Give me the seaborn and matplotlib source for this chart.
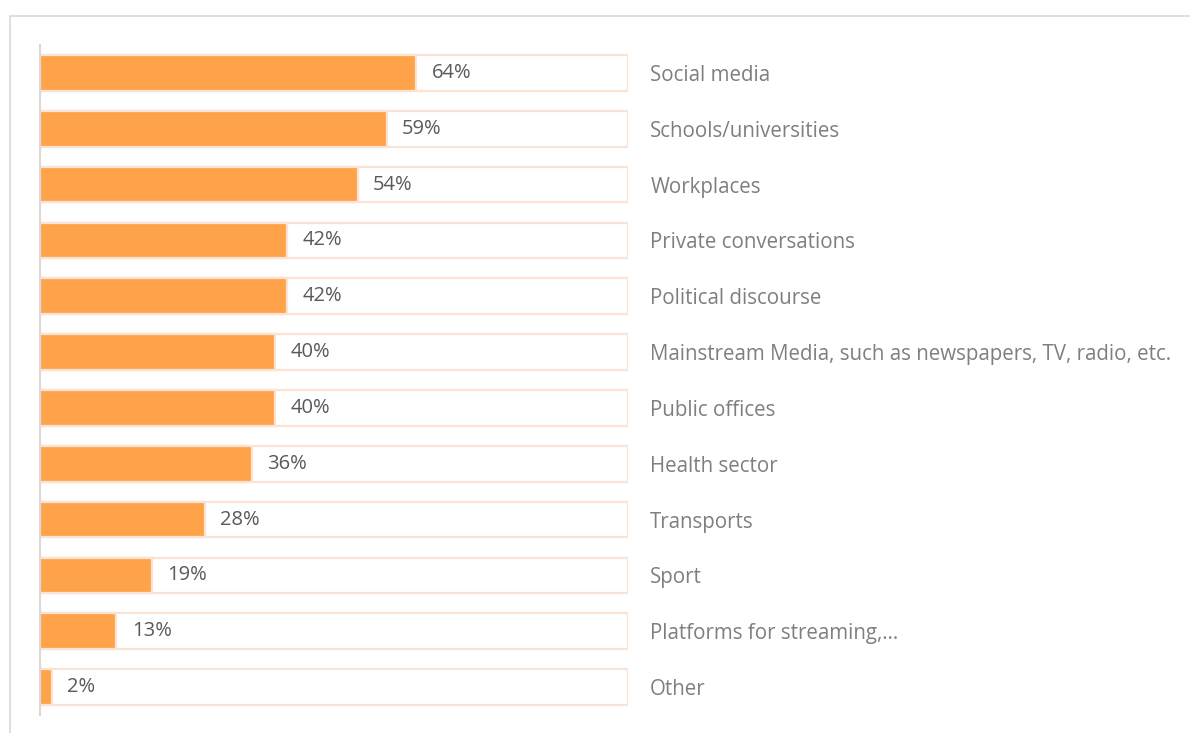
import pandas as pd
import matplotlib.pyplot as plt
import seaborn as sns
from matplotlib.patches import Rectangle

# -----------------------------
# Data
# -----------------------------
categories = [
    "Social media",
    "Schools/universities",
    "Workplaces",
    "Private conversations",
    "Political discourse",
    "Mainstream Media, such as newspapers, TV, radio, etc.",
    "Public offices",
    "Health sector",
    "Transports",
    "Sport",
    "Platforms for streaming,\u2026",
    "Other",
]
values = [64, 59, 54, 42, 42, 40, 40, 36, 28, 19, 13, 2]
full = [100] * len(categories)

df = pd.DataFrame({"category": categories, "value": values, "full": full})

# -----------------------------
# Style
# -----------------------------
sns.set_theme(style="white")
plt.rcParams["font.family"] = ["Open Sans", "DejaVu Sans"]

fill_color = "#FFA34A"
edge_color = "#FBE3D3"
text_dark = "#595959"
text_light = "#7F7F7F"

fig = plt.figure(figsize=(11.9, 7.33), dpi=100)
ax = fig.add_axes([40 / 1190, 1 - 715 / 733, (628 - 40) / 1190, (715 - 45) / 733])

# background (100%) bars
sns.barplot(data=df, y="category", x="full", orient="h", color="white",
            edgecolor=edge_color, linewidth=1.6, width=0.64, ax=ax)
# value bars
sns.barplot(data=df, y="category", x="value", orient="h", color=fill_color,
            edgecolor=edge_color, linewidth=1.6, width=0.64, saturation=1, ax=ax)

bars = ax.containers[1]
ax.bar_label(bars, labels=[f"{v}%" for v in values], padding=11,
             fontsize=14.5, color=text_dark)

ax.set_xlim(0, 100)
ax.set_ylim(len(categories) - 0.5, -0.5)
ax.set_xlabel("")
ax.set_ylabel("")
ax.set_xticks([])

# category labels on the right
ax.yaxis.tick_right()
ax.tick_params(axis="y", length=0, pad=16, labelsize=14.8, labelcolor=text_light)

for s in ["top", "right", "bottom"]:
    ax.spines[s].set_visible(False)
ax.spines["left"].set_color("#D9D9D9")
ax.spines["left"].set_linewidth(1.5)

# outer chart border (partly cut off)
fig.patches.append(Rectangle((10 / 1190, -0.05), 1.1, 1 - 16 / 733 + 0.05,
                             transform=fig.transFigure, fill=False,
                             edgecolor="#D9D9D9", linewidth=1.2))

fig.savefig("out.png", dpi=100)
